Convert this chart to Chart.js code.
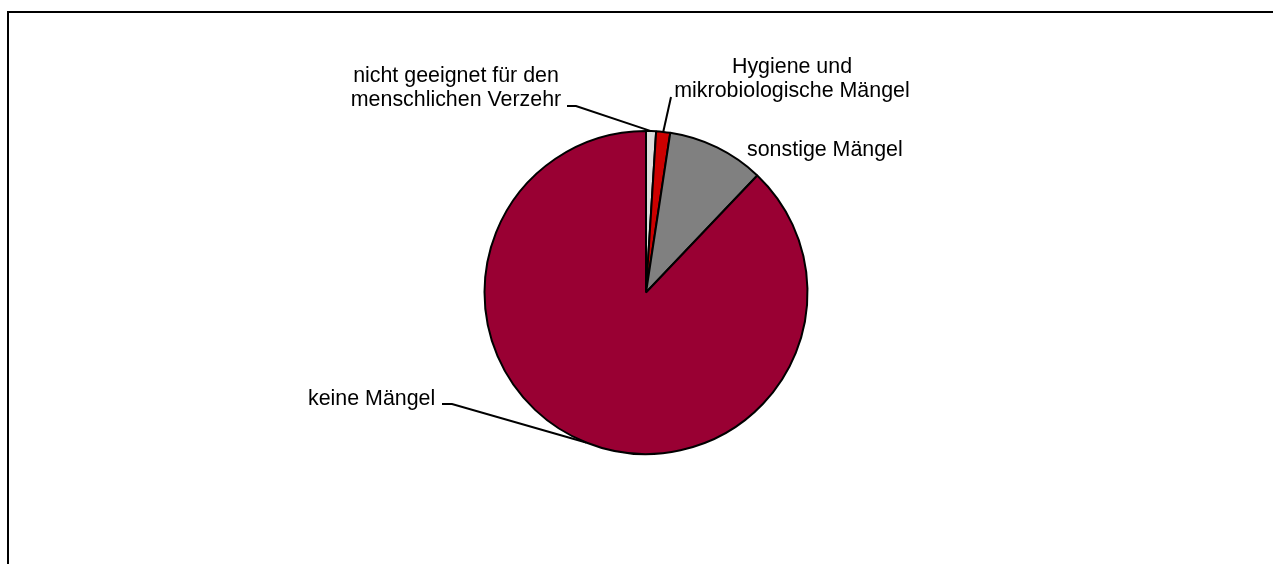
<!DOCTYPE html>
<html><head><meta charset="utf-8">
<script src="https://cdn.jsdelivr.net/npm/chart.js@4"></script>
<style>
html,body{margin:0;padding:0;background:#fff;overflow:hidden}
#frame{position:absolute;left:7px;top:11px;width:1400px;height:700px;border:2px solid #000;box-sizing:border-box}
#wrap{position:absolute;left:0;top:0;width:1273px;height:564px}
</style></head><body>
<div id="frame"></div>
<div id="wrap"><canvas id="c"></canvas></div>
<script>
const categories = [["nicht geeignet für den","menschlichen Verzehr"],["Hygiene und","mikrobiologische Mängel"],["sonstige Mängel"],["keine Mängel"]];
const values = [1.0, 1.4, 9.7, 87.9];
const colors = ['#DDDDDD','#CC0000','#808080','#990033'];

// label placement (style/layout only)
const labelLayout = [
  {x:456, y:82, align:'center', leader:[[567,106],[576,106]]},
  {x:792, y:73, align:'center', leader:[[671,97]]},
  {x:747, y:156, align:'left', leader:null},
  {x:308, y:405, align:'left', leader:[[442,404],[452,404]]}
];

const labelPlugin = {
  id:'labels',
  afterDraw(chart){
    const ctx = chart.ctx;
    const meta = chart.getDatasetMeta(0);
    ctx.save();
    ctx.font = '21.4px "Liberation Sans", Arial, sans-serif';
    ctx.fillStyle = '#000';
    ctx.textBaseline = 'alphabetic';
    categories.forEach((lines, i) => {
      const L = labelLayout[i];
      ctx.textAlign = L.align;
      lines.forEach((t, k) => ctx.fillText(t, L.x, L.y + k*24));
      if (L.leader){
        const arc = meta.data[i];
        const p = arc.getProps(['x','y','startAngle','endAngle','outerRadius'], true);
        const mid = (p.startAngle + p.endAngle)/2;
        const ex = p.x + Math.cos(mid)*p.outerRadius;
        const ey = p.y + Math.sin(mid)*p.outerRadius;
        ctx.beginPath();
        ctx.strokeStyle = '#000';
        ctx.lineWidth = 2;
        ctx.moveTo(L.leader[0][0], L.leader[0][1]);
        for (let j=1;j<L.leader.length;j++) ctx.lineTo(L.leader[j][0], L.leader[j][1]);
        ctx.lineTo(ex, ey);
        ctx.stroke();
      }
    });
    ctx.restore();
  }
};

new Chart(document.getElementById('c'), {
  type:'pie',
  data:{
    labels: categories.map(l => l.join(' ')),
    datasets:[{
      data: values,
      backgroundColor: colors,
      borderColor:'#000',
      borderWidth:2,
      hoverOffset:0,
      radius:161.5
    }]
  },
  options:{
    responsive:true,
    maintainAspectRatio:false,
    animation:false,
    layout:{padding:{left:400,right:381,top:100,bottom:79}},
    plugins:{legend:{display:false},tooltip:{enabled:false}}
  },
  plugins:[labelPlugin]
});
</script>
</body></html>
